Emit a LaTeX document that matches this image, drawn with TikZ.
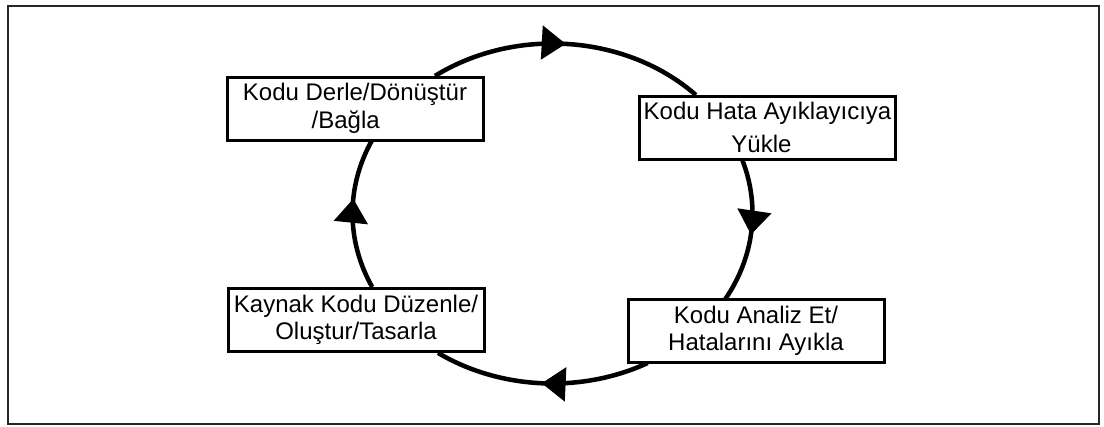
\documentclass[tikz,border=0pt]{standalone}
\usepackage{fontspec}
\setmainfont{Liberation Sans}
\usetikzlibrary{arrows.meta,decorations.markings}
\begin{document}
\begin{tikzpicture}[x=0.75pt,y=-0.75pt,
  stepbox/.style={draw=black, line width=2.25pt, fill=white,
    minimum width=192pt, minimum height=47.25pt, inner sep=0pt,
    align=center, font=\fontsize{18pt}{21pt}\selectfont},
  ring/.style={line width=3.4pt, line cap=butt},
  flow/.style={postaction={decorate}, decoration={markings,
    mark=at position #1 with {\arrow{Triangle[length=18pt,width=25pt]}}}}
]
\useasboundingbox (0,0) rectangle (1104,426);
\draw[line width=1.5pt, draw=black!85] (8,6) rectangle (1099,424);

% centre of the cycle ring
\coordinate (c) at (552.5,213.5);

% ring segments, clockwise, each with a direction arrow
\draw[ring, flow=0.49] (c) ++(234:200 and 170)
  arc[start angle=234, end angle=315.8, x radius=200, y radius=170];
\draw[ring, flow=0.52] (c) ++(341.7:200 and 170)
  arc[start angle=341.7, end angle=390.2, x radius=200, y radius=170];
\draw[ring, flow=0.5] (c) ++(61.6:200 and 170)
  arc[start angle=61.6, end angle=124.9, x radius=200, y radius=170];
\draw[ring, flow=0.6] (c) ++(154.4:200 and 170)
  arc[start angle=154.4, end angle=205.3, x radius=200, y radius=170];

% the four steps
\node[stepbox] (derle) at (355,108.5) {Kodu Derle/Dönüştür\\/Bağla\hspace*{14pt}};
\node[stepbox, font=\fontsize{18pt}{24.75pt}\selectfont] (yukle) at (767.5,127.5)
  {Kodu Hata Ayıklayıcıya\\Yükle\hspace*{9pt}};
\node[stepbox, font=\fontsize{18pt}{20.5pt}\selectfont] (analiz) at (756,331)
  {Kodu Analiz Et/\\Hatalarını Ayıkla};
\node[stepbox, font=\fontsize{18pt}{20.5pt}\selectfont] (duzenle) at (356,320)
  {Kaynak Kodu Düzenle/\\Oluştur/Tasarla};
\end{tikzpicture}
\end{document}
